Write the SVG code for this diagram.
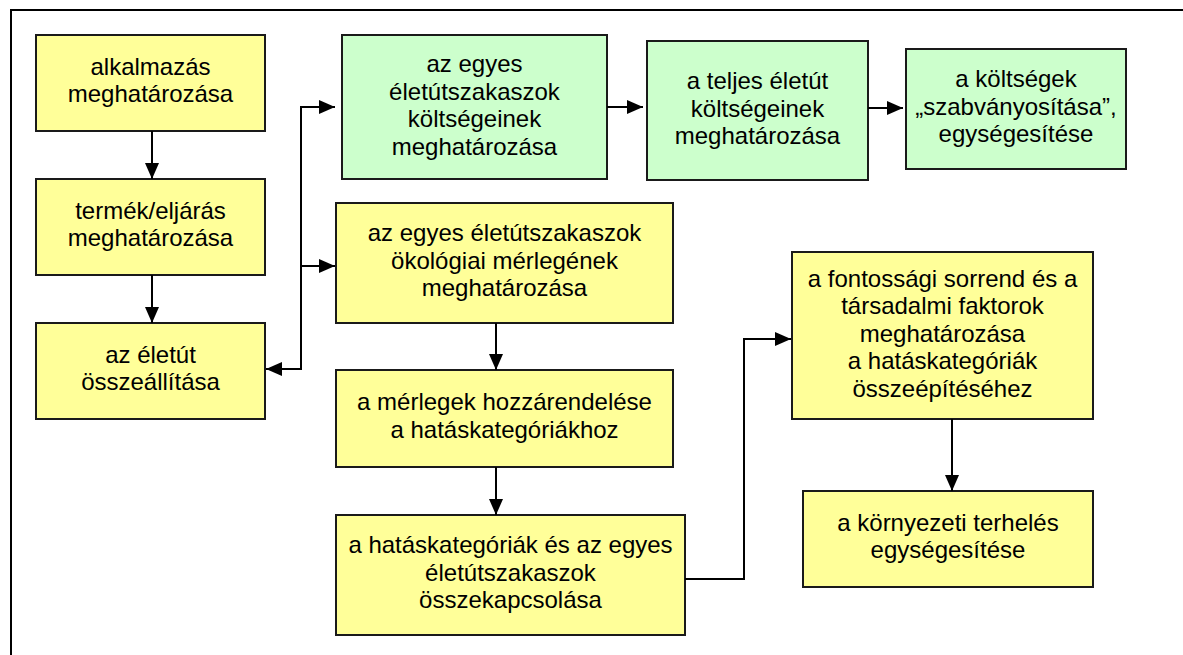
<svg xmlns="http://www.w3.org/2000/svg" width="1183" height="655" viewBox="0 0 1183 655">
<style>
.y{fill:#FFFF99;stroke:#1a1a1a;stroke-width:2}
.g{fill:#CCFFCC;stroke:#1a1a1a;stroke-width:2}
text{font-family:"Liberation Sans",Arial,sans-serif;font-size:24px;fill:#000;text-anchor:middle}
.c{fill:none;stroke:#000;stroke-width:2}
.a{marker-end:url(#ah)}
</style>
<defs>
<marker id="ah" markerUnits="userSpaceOnUse" markerWidth="16" markerHeight="14" refX="16" refY="7" orient="auto">
<path d="M0,0 L16,7 L0,14 z" fill="#000"/>
</marker>
</defs>
<rect width="1183" height="655" fill="#fff"/>
<path d="M11,660 V10 H1190" fill="none" stroke="#000" stroke-width="2"/>
<g id="n1"><rect class="y" x="36" y="35" width="229" height="96"/><text x="150.5"><tspan x="150.5" y="75">alkalmazás</tspan><tspan x="150.5" y="102">meghatározása</tspan></text></g>
<g id="n2"><rect class="y" x="36" y="179" width="229" height="96"/><text x="150.5"><tspan x="150.5" y="219">termék/eljárás</tspan><tspan x="150.5" y="246">meghatározása</tspan></text></g>
<g id="n3"><rect class="y" x="36" y="323" width="229" height="96"/><text x="150.5"><tspan x="150.5" y="363">az életút</tspan><tspan x="150.5" y="390">összeállítása</tspan></text></g>
<g id="g1"><rect class="g" x="342" y="35" width="265" height="144"/><text><tspan x="474.5" y="72">az egyes</tspan><tspan x="474.5" y="99.5">életútszakaszok</tspan><tspan x="474.5" y="127">költségeinek</tspan><tspan x="474.5" y="154.5">meghatározása</tspan></text></g>
<g id="g2"><rect class="g" x="647" y="41" width="221" height="139"/><text><tspan x="757.5" y="89">a teljes életút</tspan><tspan x="757.5" y="116.5">költségeinek</tspan><tspan x="757.5" y="144">meghatározása</tspan></text></g>
<g id="g3"><rect class="g" x="906" y="49" width="220" height="120"/><text><tspan x="1016" y="87">a költségek</tspan><tspan x="1016" y="114.5">„szabványosítása”,</tspan><tspan x="1016" y="142">egységesítése</tspan></text></g>
<g id="y4"><rect class="y" x="336" y="203" width="337" height="120"/><text><tspan x="504.5" y="241">az egyes életútszakaszok</tspan><tspan x="504.5" y="268.5">ökológiai mérlegének</tspan><tspan x="504.5" y="296">meghatározása</tspan></text></g>
<g id="y5"><rect class="y" x="336" y="370" width="337" height="97"/><text><tspan x="504.5" y="410">a mérlegek hozzárendelése</tspan><tspan x="504.5" y="437.5">a hatáskategóriákhoz</tspan></text></g>
<g id="y6"><rect class="y" x="336" y="515" width="349" height="120"/><text><tspan x="510.5" y="553">a hatáskategóriák és az egyes</tspan><tspan x="510.5" y="580.5">életútszakaszok</tspan><tspan x="510.5" y="608">összekapcsolása</tspan></text></g>
<g id="y7"><rect class="y" x="792" y="252" width="301" height="167"/><text><tspan x="942.5" y="286.5">a fontossági sorrend és a</tspan><tspan x="942.5" y="314">társadalmi faktorok</tspan><tspan x="942.5" y="341.5">meghatározása</tspan><tspan x="942.5" y="369">a hatáskategóriák</tspan><tspan x="942.5" y="396.5">összeépítéséhez</tspan></text></g>
<g id="y8"><rect class="y" x="803" y="491" width="290" height="96"/><text><tspan x="948" y="531">a környezeti terhelés</tspan><tspan x="948" y="558">egységesítése</tspan></text></g>
<g id="connectors">
<path class="c a" d="M152,131 V179"/>
<path class="c a" d="M152,275 V323"/>
<path class="c" d="M301,107 V369"/>
<path class="c a" d="M300,107 H335"/>
<path class="c a" d="M300,266 H335"/>
<path class="c a" d="M302,369 H266"/>
<path class="c a" d="M607,107 H643"/>
<path class="c a" d="M868,108 H903"/>
<path class="c a" d="M496,323 V370"/>
<path class="c a" d="M496,467 V515"/>
<path class="c a" d="M685,579 H744 V339 H791"/>
<path class="c a" d="M952,419 V491"/>
</g>
</svg>
